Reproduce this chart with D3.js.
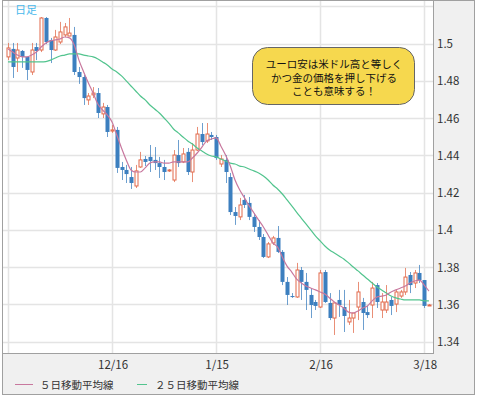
<!DOCTYPE html>
<html>
<head>
<meta charset="utf-8">
<script src="https://cdn.jsdelivr.net/npm/d3@7"></script>
<style>
  html, body { margin: 0; padding: 0; background: #fff; }
  svg text { font-family: "Noto Sans CJK JP", "DejaVu Sans", sans-serif; }
</style>
</head>
<body>
<div id="chart"></div>
<script>
// daily candles (EUR/USD), one entry per trading day
const openV = [1.4928, 1.4971, 1.4922, 1.4960, 1.4928, 1.4847, 1.4981, 1.4965, 1.5137, 1.5019,
  1.4965, 1.5008, 1.5046, 1.5040, 1.5046, 1.4847, 1.4820, 1.4697, 1.4724, 1.4734,
  1.4622, 1.4659, 1.4530, 1.4536, 1.4337, 1.4321, 1.4283, 1.4235, 1.4337, 1.4380,
  1.4391, 1.4375, 1.4358, 1.4337, 1.4316, 1.4267, 1.4401, 1.4364, 1.4418, 1.4310,
  1.4428, 1.4514, 1.4477, 1.4509, 1.4498, 1.4353, 1.4375, 1.4283, 1.4095, 1.4069,
  1.4160, 1.4144, 1.4069, 1.4015, 1.3961, 1.3854, 1.3929, 1.3956, 1.3881, 1.3720,
  1.3644, 1.3639, 1.3784, 1.3720, 1.3650, 1.3612, 1.3585, 1.3773, 1.3607, 1.3526,
  1.3623, 1.3585, 1.3505, 1.3526, 1.3585, 1.3612, 1.3558, 1.3596, 1.3703, 1.3569,
  1.3569, 1.3623, 1.3601, 1.3644, 1.3666, 1.3757, 1.3714, 1.3768, 1.3730, 1.3593];
const highV = [1.5003, 1.5003, 1.5003, 1.4965, 1.4928, 1.5003, 1.5003, 1.5142, 1.5142, 1.5030,
  1.5073, 1.5116, 1.5110, 1.5137, 1.5089, 1.4874, 1.4831, 1.4734, 1.4766, 1.4761,
  1.4681, 1.4670, 1.4562, 1.4552, 1.4364, 1.4348, 1.4337, 1.4348, 1.4418, 1.4396,
  1.4455, 1.4444, 1.4391, 1.4375, 1.4326, 1.4428, 1.4482, 1.4439, 1.4439, 1.4466,
  1.4552, 1.4573, 1.4573, 1.4525, 1.4509, 1.4401, 1.4401, 1.4305, 1.4122, 1.4171,
  1.4187, 1.4176, 1.4090, 1.4052, 1.3977, 1.3934, 1.3967, 1.4020, 1.3891, 1.3746,
  1.3660, 1.3822, 1.3800, 1.3768, 1.3687, 1.3623, 1.3784, 1.3784, 1.3660, 1.3607,
  1.3677, 1.3677, 1.3623, 1.3553, 1.3720, 1.3634, 1.3591, 1.3720, 1.3714, 1.3660,
  1.3703, 1.3639, 1.3682, 1.3677, 1.3795, 1.3773, 1.3784, 1.3811, 1.3730, 1.3601];
const lowV = [1.4911, 1.4815, 1.4847, 1.4869, 1.4804, 1.4831, 1.4911, 1.4954, 1.4997, 1.4895,
  1.4960, 1.4997, 1.5035, 1.5040, 1.4831, 1.4783, 1.4670, 1.4670, 1.4707, 1.4600,
  1.4600, 1.4498, 1.4520, 1.4305, 1.4267, 1.4251, 1.4219, 1.4224, 1.4332, 1.4342,
  1.4310, 1.4321, 1.4278, 1.4267, 1.4310, 1.4256, 1.4337, 1.4358, 1.4294, 1.4256,
  1.4423, 1.4455, 1.4466, 1.4482, 1.4375, 1.4337, 1.4251, 1.4079, 1.4026, 1.4052,
  1.4117, 1.4052, 1.3988, 1.3945, 1.3848, 1.3848, 1.3918, 1.3875, 1.3703, 1.3596,
  1.3634, 1.3634, 1.3623, 1.3569, 1.3526, 1.3569, 1.3580, 1.3607, 1.3515, 1.3435,
  1.3532, 1.3451, 1.3489, 1.3446, 1.3515, 1.3462, 1.3526, 1.3526, 1.3580, 1.3526,
  1.3553, 1.3542, 1.3558, 1.3634, 1.3650, 1.3660, 1.3687, 1.3714, 1.3580, 1.3591];
const closeV = [1.4976, 1.4874, 1.4965, 1.4928, 1.4858, 1.4965, 1.4960, 1.5137, 1.5008, 1.4965,
  1.5035, 1.5062, 1.5089, 1.5056, 1.4847, 1.4820, 1.4707, 1.4718, 1.4734, 1.4627,
  1.4659, 1.4525, 1.4536, 1.4332, 1.4321, 1.4299, 1.4251, 1.4316, 1.4375, 1.4364,
  1.4369, 1.4358, 1.4337, 1.4310, 1.4321, 1.4401, 1.4358, 1.4407, 1.4310, 1.4428,
  1.4514, 1.4471, 1.4514, 1.4498, 1.4385, 1.4380, 1.4310, 1.4095, 1.4074, 1.4133,
  1.4133, 1.4069, 1.4015, 1.3961, 1.3854, 1.3924, 1.3956, 1.3881, 1.3720, 1.3650,
  1.3639, 1.3784, 1.3720, 1.3677, 1.3596, 1.3591, 1.3768, 1.3612, 1.3526, 1.3607,
  1.3596, 1.3537, 1.3526, 1.3553, 1.3666, 1.3553, 1.3542, 1.3687, 1.3612, 1.3612,
  1.3612, 1.3591, 1.3666, 1.3666, 1.3746, 1.3703, 1.3768, 1.3730, 1.3591, 1.3596];
const ma5 = [1.4971, 1.4954, 1.4938, 1.4928, 1.4928, 1.4938, 1.4954, 1.4981, 1.5003, 1.5014,
  1.5019, 1.5024, 1.5035, 1.5030, 1.4992, 1.4911, 1.4847, 1.4788, 1.4734, 1.4675,
  1.4643, 1.4616, 1.4579, 1.4509, 1.4439, 1.4375, 1.4321, 1.4310, 1.4310, 1.4332,
  1.4358, 1.4364, 1.4364, 1.4358, 1.4358, 1.4364, 1.4364, 1.4364, 1.4364, 1.4385,
  1.4412, 1.4444, 1.4477, 1.4487, 1.4493, 1.4450, 1.4401, 1.4342, 1.4267, 1.4213,
  1.4171, 1.4128, 1.4090, 1.4052, 1.4015, 1.3972, 1.3929, 1.3907, 1.3854, 1.3805,
  1.3773, 1.3736, 1.3714, 1.3698, 1.3687, 1.3677, 1.3666, 1.3655, 1.3634, 1.3612,
  1.3596, 1.3580, 1.3558, 1.3553, 1.3564, 1.3580, 1.3591, 1.3618, 1.3639, 1.3644,
  1.3650, 1.3666, 1.3677, 1.3687, 1.3698, 1.3714, 1.3725, 1.3730, 1.3703, 1.3671];
const ma25 = [1.4901, 1.4901, 1.4901, 1.4901, 1.4901, 1.4901, 1.4901, 1.4901, 1.4903, 1.4911,
  1.4922, 1.4933, 1.4938, 1.4944, 1.4944, 1.4944, 1.4938, 1.4933, 1.4928, 1.4917,
  1.4901, 1.4885, 1.4863, 1.4847, 1.4826, 1.4799, 1.4772, 1.4745, 1.4718, 1.4697,
  1.4670, 1.4648, 1.4627, 1.4600, 1.4573, 1.4541, 1.4520, 1.4498, 1.4477, 1.4460,
  1.4439, 1.4423, 1.4407, 1.4396, 1.4391, 1.4380, 1.4369, 1.4358, 1.4353, 1.4342,
  1.4337, 1.4326, 1.4316, 1.4305, 1.4289, 1.4267, 1.4240, 1.4219, 1.4192, 1.4160,
  1.4128, 1.4095, 1.4063, 1.4031, 1.3999, 1.3967, 1.3940, 1.3913, 1.3891, 1.3875,
  1.3859, 1.3843, 1.3822, 1.3800, 1.3779, 1.3757, 1.3736, 1.3714, 1.3693, 1.3677,
  1.3660, 1.3644, 1.3634, 1.3628, 1.3623, 1.3623, 1.3623, 1.3623, 1.3618, 1.3618];

const xTickIdx = [0, 22, 44, 66, 88];
const xTickLabels = ['', '12/16', '1/15', '2/16', '3/18'];
const yTicks = [1.34, 1.36, 1.38, 1.40, 1.42, 1.44, 1.46, 1.48, 1.50];
const yGrid = [1.34, 1.36, 1.38, 1.40, 1.42, 1.44, 1.46, 1.48, 1.50, 1.52];
const legendNames = ['５日移動平均線', '２５日移動平均線'];
const noteLines = ['ユーロ安は米ドル高と等しく', 'かつ金の価格を押し下げる', 'ことも意味する！'];

const W = 477, H = 397;
const plot = { left: 2.5, top: 0.5, right: 433.5, bottom: 353.5 };
const upColor = '#e2694a', downColor = '#3c7fbf';

const candles = openV.map((o, i) => ({ i, o, h: highV[i], l: lowV[i], c: closeV[i] }));

const x = d3.scaleLinear().domain([0, 88]).range([8, 424.2]);
const y = d3.scaleLinear().domain([1.34, 1.50]).range([341.5, 43.5]);

const svg = d3.select('#chart').append('svg').attr('width', W).attr('height', H);

// outer frame
svg.append('rect')
  .attr('x', 2.5).attr('y', 0.5).attr('width', 472).attr('height', 394)
  .attr('fill', '#f0f0f0').attr('stroke', '#a0a0a0');

svg.append('rect')
  .attr('x', plot.left).attr('y', plot.top)
  .attr('width', plot.right - plot.left).attr('height', plot.bottom - plot.top)
  .attr('fill', '#fff');

// grid
svg.append('g').selectAll('line').data(yGrid).enter().append('line')
  .attr('x1', plot.left).attr('x2', plot.right)
  .attr('y1', d => Math.round(y(d)) + 0.5).attr('y2', d => Math.round(y(d)) + 0.5)
  .style('stroke', '#e4e4e4').style('stroke-width', 1.5);

svg.append('g').selectAll('line').data(xTickIdx).enter().append('line')
  .attr('x1', d => Math.round(x(d)) + 0.5).attr('x2', d => Math.round(x(d)) + 0.5)
  .attr('y1', plot.top).attr('y2', plot.bottom)
  .style('stroke', '#e4e4e4').style('stroke-width', 1.5);

svg.append('rect')
  .attr('x', plot.left).attr('y', plot.top)
  .attr('width', plot.right - plot.left).attr('height', plot.bottom - plot.top)
  .attr('fill', 'none').attr('stroke', '#a0a0a0');

// candles
const cg = svg.append('g');
cg.selectAll('line').data(candles).enter().append('line')
  .attr('x1', d => Math.round(x(d.i)) + 0.5).attr('x2', d => Math.round(x(d.i)) + 0.5)
  .attr('y1', d => y(d.h)).attr('y2', d => y(d.l))
  .style('stroke', d => (d.c >= d.o ? upColor : downColor))
  .style('stroke-opacity', 0.75);

cg.selectAll('rect').data(candles).enter().append('rect')
  .attr('x', d => Math.round(x(d.i)) - (d.c >= d.o ? 1 : 1.5))
  .attr('width', d => (d.c >= d.o ? 3 : 4))
  .attr('y', d => y(Math.max(d.o, d.c)))
  .attr('height', d => Math.max(1, Math.abs(y(d.o) - y(d.c))))
  .style('fill', d => (d.c >= d.o ? '#fff' : downColor))
  .style('stroke', d => (d.c >= d.o ? upColor : 'none'))
  .style('stroke-width', 1);

// moving averages
const line = d3.line().x((d, i) => x(i)).y(d => y(d)).curve(d3.curveMonotoneX);
svg.append('path').datum(ma25).attr('d', line)
  .style('fill', 'none').style('stroke', '#52c48e').style('stroke-width', 1.2);
svg.append('path').datum(ma5).attr('d', line)
  .style('fill', 'none').style('stroke', '#c8789e').style('stroke-width', 1.2);

// axes text
svg.append('g').selectAll('text').data(yTicks).enter().append('text')
  .attr('x', 437).attr('y', d => y(d) + 4.5)
  .text(d => String(+d.toFixed(2)))
  .style('font-size', '11.5px').style('fill', '#333');

svg.append('g').selectAll('text').data(xTickIdx).enter().append('text')
  .attr('x', d => x(d) + 1).attr('y', 369)
  .attr('text-anchor', 'middle')
  .text((d, i) => xTickLabels[i])
  .style('font-size', '11.5px').style('fill', '#333');

svg.append('text').attr('x', 15).attr('y', 14).text('日足')
  .style('font-size', '11px').style('fill', '#48b8ec');

// legend
const legendColors = ['#c8789e', '#52c48e'];
const legendX = [[15, 33, 40], [137, 147, 155]];
legendNames.forEach((name, i) => {
  svg.append('line')
    .attr('x1', legendX[i][0]).attr('x2', legendX[i][1]).attr('y1', 384.5).attr('y2', 384.5)
    .style('stroke', legendColors[i]);
  svg.append('text').attr('x', legendX[i][2]).attr('y', 388.5).text(name)
    .style('font-size', '10.5px').style('fill', '#333');
});

// annotation balloon
svg.append('rect')
  .attr('x', 252.5).attr('y', 47.5).attr('width', 162).attr('height', 57)
  .attr('rx', 15).attr('ry', 15)
  .style('fill', '#f6d84e').style('stroke', '#666');

svg.append('g').selectAll('text').data(noteLines).enter().append('text')
  .attr('x', 334).attr('y', (d, i) => 68 + i * 13.5)
  .attr('text-anchor', 'middle')
  .text(d => d)
  .style('font-size', '10.5px').style('fill', '#111');
</script>
</body>
</html>
